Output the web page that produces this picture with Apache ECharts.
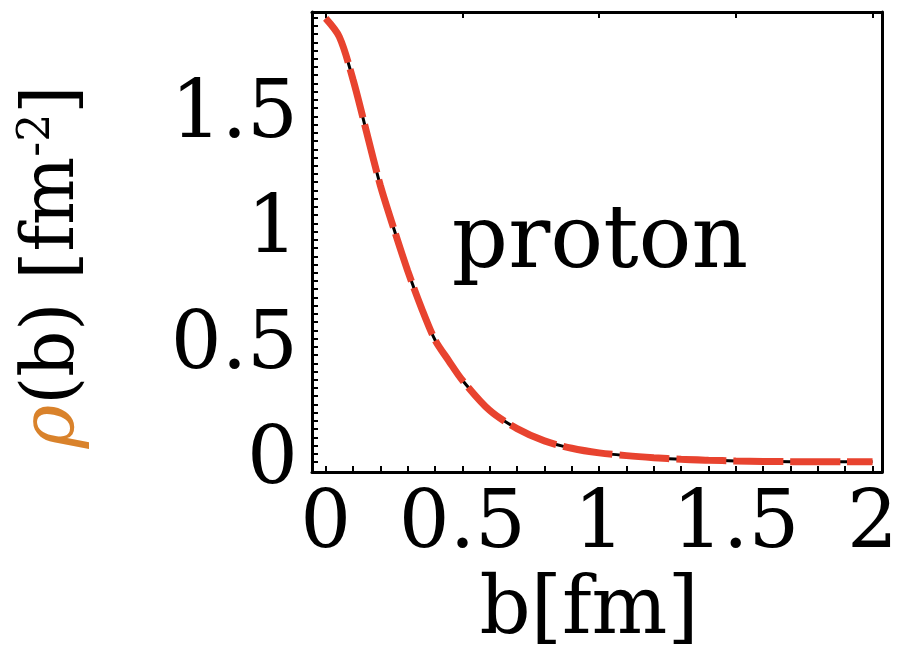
<!DOCTYPE html>
<html>
<head>
<meta charset="utf-8">
<script src="https://cdn.jsdelivr.net/npm/echarts@6/dist/echarts.min.js"></script>
<style>html,body{margin:0;padding:0;background:#fff;}#c{width:901px;height:657px;}</style>
</head>
<body>
<div id="c"></div>
<script>
// impact parameter b [fm]
var bValues = [0, 0.05, 0.1, 0.15, 0.2, 0.25, 0.3, 0.35, 0.4, 0.45, 0.5, 0.6, 0.7, 0.8, 0.9, 1.0, 1.1, 1.2, 1.3, 1.4, 1.5, 1.6, 1.7, 1.8, 1.9, 2.0];
// transverse density rho(b) [fm^-2]
var rhoValues = [1.925, 1.845, 1.66, 1.43, 1.20, 1.01, 0.83, 0.67, 0.53, 0.44, 0.355, 0.224, 0.145, 0.092, 0.06, 0.040, 0.028, 0.019, 0.012, 0.008, 0.005, 0.003, 0.002, 0.001, 0.001, 0.001];
var xTickLabels = [0, 0.5, 1, 1.5, 2];
var yTickLabels = [0, 0.5, 1, 1.5];
var xMinorTicks = [0,0.1,0.2,0.3,0.4,0.5,0.6,0.7,0.8,0.9,1,1.1,1.2,1.3,1.4,1.5,1.6,1.7,1.8,1.9,2];
var yMinorTicks = [];
for (var i = 0; i <= 54; i++) yMinorTicks.push(i * 0.5 / 14);

var pts = bValues.map(function (b, i) { return [b, rhoValues[i]]; });
var FONT = 'DejaVu Serif';

var chart = echarts.init(document.getElementById('c'), null, {renderer: 'canvas'});
chart.setOption({
  backgroundColor: '#fff',
  animation: false,
  grid: {left: 312, top: 12, right: 13, bottom: 182, show: false},
  xAxis: [{
    type: 'value', position: 'bottom', min: -0.05, max: 2.035,
    axisLine: {show: true, onZero: false, lineStyle: {color: '#000', width: 3}},
    axisTick: {show: true, inside: true, length: 6, lineStyle: {color: '#000', width: 2}, customValues: xMinorTicks},
    axisLabel: {show: true, customValues: xTickLabels, margin: 14, color: '#000',
      fontFamily: FONT, fontSize: 80,
      formatter: function (v) { return String(+v.toFixed(2)); }},
    splitLine: {show: false},
    name: 'b[fm]', nameLocation: 'middle', nameGap: 100,
    nameTextStyle: {fontFamily: FONT, fontSize: 80, color: '#000', padding: [0, 16, 0, 0]}
  }, {
    type: 'value', position: 'top', min: -0.05, max: 2.035,
    axisLine: {show: true, onZero: false, lineStyle: {color: '#000', width: 3}},
    axisTick: {show: true, inside: true, length: 6, lineStyle: {color: '#000', width: 2}, customValues: xTickLabels},
    axisLabel: {show: false},
    splitLine: {show: false}
  }],
  yAxis: [{
    type: 'value', position: 'left', min: -0.043, max: 1.953,
    axisLine: {show: true, onZero: false, lineStyle: {color: '#000', width: 3}},
    axisTick: {show: true, inside: true, length: 6, lineStyle: {color: '#000', width: 2}, customValues: yMinorTicks.filter(function (v) { return v <= 1.953; })},
    axisLabel: {show: true, customValues: yTickLabels, margin: 14, color: '#000',
      fontFamily: FONT, fontSize: 80,
      formatter: function (v) { return String(+v.toFixed(2)); }},
    splitLine: {show: false},
    name: '{rho|ρ}{n|(b) [fm}{sup|-2}{n|]}', nameLocation: 'middle', nameRotate: 90, nameGap: 220,
    nameTextStyle: {
      padding: [0, 50, 0, 0],
      rich: {
        rho: {fontFamily: FONT, fontStyle: 'italic', fontSize: 74, color: '#d9822b'},
        n: {fontFamily: FONT, fontSize: 72, color: '#000'},
        sup: {fontFamily: FONT, fontSize: 44, color: '#000', verticalAlign: 'top', padding: [0, 0, 32, 0]}
      }
    }
  }, {
    type: 'value', position: 'right', min: -0.043, max: 1.953,
    axisLine: {show: true, onZero: false, lineStyle: {color: '#000', width: 3}},
    axisTick: {show: false}, axisLabel: {show: false}, splitLine: {show: false}
  }],
  graphic: [{
    type: 'text', x: 600, y: 244,
    style: {text: 'proton', textAlign: 'center', textVerticalAlign: 'middle',
      font: '88px "DejaVu Serif"', fill: '#000'}
  }],
  series: [{
    type: 'line', name: 'black', data: pts, xAxisIndex: 0, yAxisIndex: 0,
    showSymbol: false, smooth: 0.3, lineStyle: {color: '#000', width: 3}, z: 2
  }, {
    type: 'line', name: 'red', data: pts, xAxisIndex: 0, yAxisIndex: 0,
    showSymbol: false, smooth: 0.3, lineStyle: {color: '#e8432f', width: 7, type: [50, 7]}, z: 3
  }]
});
</script>
</body>
</html>
